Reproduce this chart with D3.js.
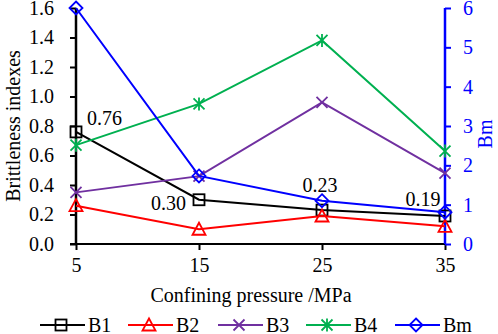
<!DOCTYPE html>
<html>
<head>
<meta charset="utf-8">
<script src="https://cdn.jsdelivr.net/npm/d3@7"></script>
<style>
  body { margin: 0; background: #fff; }
</style>
</head>
<body>
<div id="chart"></div>
<script>
// data
const pressures = [5, 15, 25, 35];
const b1 = [0.76, 0.30, 0.23, 0.19];
const b2 = [0.26, 0.10, 0.19, 0.12];
const b3 = [0.35, 0.46, 0.96, 0.48];
const b4 = [0.67, 0.95, 1.38, 0.63];
const bm = [6.0, 1.73, 1.10, 0.81];
const leftTicks = [0, 0.2, 0.4, 0.6, 0.8, 1.0, 1.2, 1.4, 1.6];
const rightTicks = [0, 1, 2, 3, 4, 5, 6];
const b1Labels = ["0.76", "0.30", "0.23", "0.19"];

const width = 498, height = 334;
const margin = {left: 76, right: 53, top: 8, bottom: 90};
const serif = '"Liberation Serif", "Times New Roman", "DejaVu Serif", serif';
const fs = 20;

const svg = d3.select("#chart").append("svg")
    .attr("width", width)
    .attr("height", height)
    .style("font-family", serif);

const x = d3.scaleLinear().domain([5, 35]).range([margin.left, width - margin.right]);
const y = d3.scaleLinear().domain([0, 1.6]).range([height - margin.bottom, margin.top]);
const y2 = d3.scaleLinear().domain([0, 6]).range([height - margin.bottom, margin.top]);

// x axis
const xAxis = svg.append("g")
    .attr("transform", `translate(0,${y(0)})`)
    .call(d3.axisBottom(x).tickValues(pressures).tickSize(6).tickPadding(8));
xAxis.select(".domain").attr("stroke-width", 2).attr("d", `M${x(5) - 6},0H${x(35)}`);

// left axis
const yAxis = svg.append("g")
    .attr("transform", `translate(${x(5)},0)`)
    .call(d3.axisLeft(y).tickValues(leftTicks).tickFormat(d3.format(".1f")).tickSize(6).tickPadding(16));
yAxis.select(".domain").attr("stroke-width", 2.5).attr("d", `M0,${y(1.6)}V${y(0)}`);

// right axis
const y2Axis = svg.append("g")
    .attr("transform", `translate(${x(35)},0)`)
    .call(d3.axisRight(y2).tickValues(rightTicks).tickFormat(d3.format("d")).tickSize(6).tickPadding(12));
y2Axis.select(".domain").attr("stroke", "#0000ff").attr("stroke-width", 2.5).attr("d", `M0,${y2(6)}V${y2(0)}`);
y2Axis.selectAll(".tick line").attr("stroke", "#0000ff").attr("stroke-width", 2);
y2Axis.selectAll(".tick text").attr("fill", "#0000ff");

[xAxis, yAxis, y2Axis].forEach(g => {
  g.attr("font-family", null).attr("font-size", null);
  g.selectAll("text").style("font-size", fs + "px");
});
xAxis.selectAll(".tick line").attr("stroke-width", 2);
yAxis.selectAll(".tick line").attr("stroke-width", 2);

// axis titles
svg.append("text")
    .attr("transform", `translate(20,${(y(0) + y(1.6)) / 2}) rotate(-90)`)
    .attr("text-anchor", "middle")
    .style("font-size", fs + "px")
    .text("Brittleness indexes");
svg.append("text")
    .attr("transform", `translate(492,${(y(0) + y(1.6)) / 2 + 8}) rotate(-90)`)
    .attr("text-anchor", "middle")
    .attr("fill", "#0000ff")
    .style("font-size", fs + "px")
    .text("Bm");
svg.append("text")
    .attr("x", 251).attr("y", 302)
    .attr("text-anchor", "middle")
    .style("font-size", fs + "px")
    .text("Confining pressure /MPa");

// marker shapes
function marker(g, type, color) {
  const s = 5.5;
  if (type === "square") {
    g.append("rect").attr("x", -s).attr("y", -s).attr("width", 2 * s).attr("height", 2 * s)
        .attr("fill", "none").attr("stroke", color).attr("stroke-width", 1.8);
  } else if (type === "triangle") {
    g.append("path").attr("d", `M0,${-s - 1}L${s + 1},${s}L${-s - 1},${s}Z`)
        .attr("fill", "none").attr("stroke", color).attr("stroke-width", 1.8);
  } else if (type === "x") {
    g.append("path").attr("d", `M${-s},${-s}L${s},${s}M${-s},${s}L${s},${-s}`)
        .attr("stroke", color).attr("stroke-width", 1.8);
  } else if (type === "star") {
    g.append("path").attr("d", `M${-s},${-s}L${s},${s}M${-s},${s}L${s},${-s}M0,${-s - 1}V${s + 1}`)
        .attr("stroke", color).attr("stroke-width", 1.8);
  } else if (type === "diamond") {
    g.append("path").attr("d", `M0,${-s - 1}L${s + 1},0L0,${s + 1}L${-s - 1},0Z`)
        .attr("fill", "none").attr("stroke", color).attr("stroke-width", 1.8);
  }
}

const series = [
  {name: "B1", values: b1, color: "#000000", type: "square", scale: y},
  {name: "B2", values: b2, color: "#ff0000", type: "triangle", scale: y},
  {name: "B3", values: b3, color: "#7030a0", type: "x", scale: y},
  {name: "B4", values: b4, color: "#00b050", type: "star", scale: y},
  {name: "Bm", values: bm, color: "#0000ff", type: "diamond", scale: y2}
];

series.forEach(s => {
  const line = d3.line().x((d, i) => x(pressures[i])).y(d => s.scale(d));
  svg.append("path")
      .datum(s.values)
      .attr("d", line)
      .attr("fill", "none")
      .attr("stroke", s.color)
      .attr("stroke-width", 2);
  s.values.forEach((v, i) => {
    const g = svg.append("g").attr("transform", `translate(${x(pressures[i])},${s.scale(v)})`);
    marker(g, s.type, s.color);
  });
});

// data labels on B1
const labelOffsets = [[11, -14, "start"], [-13, 3, "end"], [-2, -25, "middle"], [-22, -17, "middle"]];
b1.forEach((v, i) => {
  svg.append("text")
      .attr("x", x(pressures[i]) + labelOffsets[i][0])
      .attr("y", y(v) + labelOffsets[i][1])
      .attr("dy", "0.35em")
      .attr("text-anchor", labelOffsets[i][2])
      .style("font-size", fs + "px")
      .text(b1Labels[i]);
});

// legend
const legendX = [40, 128, 218, 306, 395];
series.forEach((s, i) => {
  const g = svg.append("g").attr("transform", `translate(${legendX[i]},325)`);
  g.append("line").attr("x1", 0).attr("x2", 45).attr("stroke", s.color).attr("stroke-width", 2);
  const m = g.append("g").attr("transform", "translate(21,0)");
  marker(m, s.type, s.color);
  g.append("text").attr("x", 48).attr("dy", "0.35em")
      .style("font-size", fs + "px")
      .text(s.name);
});
</script>
</body>
</html>
